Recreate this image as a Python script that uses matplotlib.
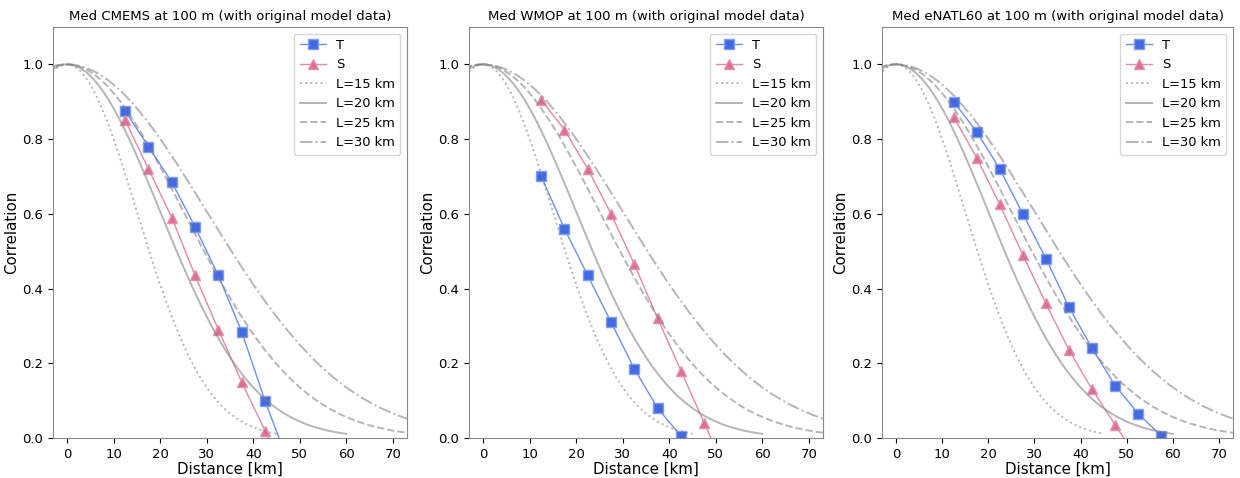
import numpy as np
import matplotlib
matplotlib.use('Agg')
import matplotlib.pyplot as plt

# separation distances of the binned correlations (km)
dist = [12.5, 17.5, 22.5, 27.5, 32.5, 37.5, 42.5, 47.5, 52.5, 57.5, 62.5]

titles = ['Med CMEMS at 100 m (with original model data)',
          'Med WMOP at 100 m (with original model data)',
          'Med eNATL60 at 100 m (with original model data)']

# temperature correlation per model
T_cmems = [0.875, 0.78, 0.685, 0.565, 0.435, 0.285, 0.10, -0.065]
T_wmop = [0.70, 0.56, 0.435, 0.31, 0.185, 0.08, 0.005, -0.06]
T_enatl = [0.90, 0.82, 0.72, 0.60, 0.48, 0.35, 0.24, 0.14, 0.065, 0.005, -0.05]

# salinity correlation per model
S_cmems = [0.85, 0.72, 0.59, 0.435, 0.29, 0.15, 0.02, -0.11]
S_wmop = [0.905, 0.825, 0.72, 0.60, 0.465, 0.32, 0.18, 0.04, -0.10]
S_enatl = [0.86, 0.75, 0.625, 0.49, 0.36, 0.235, 0.13, 0.035, -0.06]

# gaussian reference length scales (km)
scales = [15, 20, 25, 30]
styles = [':', '-', '--', '-.']


def gaussian(x, L):
    return np.exp(-x**2 / (2.0 * L**2))


def plot_panel(ax, title, T, S):
    ax.plot(dist[:len(T)], T, '-', color='#6d8ff0', lw=1.0, marker='s',
            markersize=7.8, markeredgecolor='#7f9df2', markerfacecolor='royalblue',
            label='T')
    ax.plot(dist[:len(S)], S, '-', color='#e58aa6', lw=1.0, marker='^',
            markersize=7.8, markeredgecolor='#e690ab', markerfacecolor='palevioletred',
            label='S')
    for L, ls in zip(scales, styles):
        x = np.linspace(-3 * L, 3 * L, 400)
        ax.plot(x, gaussian(x, L), ls, color='gray', alpha=0.58, lw=1.4,
                label='L=%d km' % L)
    ax.set_xlim(-3, 73)
    ax.set_ylim(0, 1.1)
    ax.set_yticks([0.0, 0.2, 0.4, 0.6, 0.8, 1.0])
    ax.set_xticks([0, 10, 20, 30, 40, 50, 60, 70])
    ax.set_title(title, fontsize=9.5, pad=5)
    ax.set_xlabel('Distance [km]', fontsize=10.8, labelpad=1)
    ax.set_ylabel('Correlation', fontsize=10.8, labelpad=2)
    ax.tick_params(labelsize=9.5)
    for sp in ax.spines.values():
        sp.set_color('#888888')
    ax.legend(loc='upper right', fontsize=9.4)


fig = plt.figure(figsize=(12.4, 4.78), dpi=100)
W, H = 1240.0, 478.0
lefts = [53, 469, 882]
widths = [354, 354, 351]
axes = [fig.add_axes([l / W, 40 / H, w / W, 411 / H]) for l, w in zip(lefts, widths)]
plot_panel(axes[0], titles[0], T_cmems, S_cmems)
plot_panel(axes[1], titles[1], T_wmop, S_wmop)
plot_panel(axes[2], titles[2], T_enatl, S_enatl)
fig.savefig('out.png', dpi=100)
